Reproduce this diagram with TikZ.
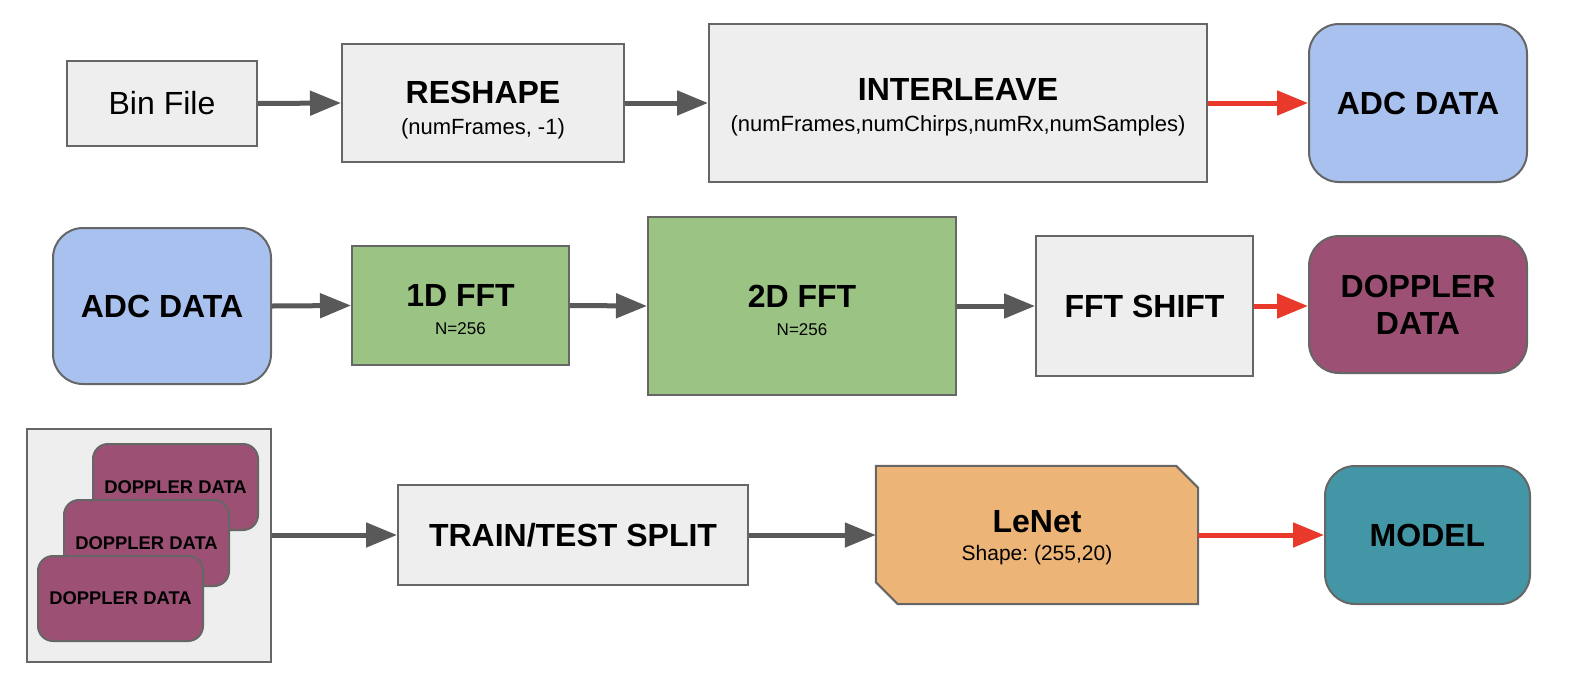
\documentclass[tikz,border=0pt]{standalone}
\usepackage{fontspec}
\setmainfont{Liberation Sans}
\usetikzlibrary{arrows.meta,backgrounds}
\definecolor{boxgray}{HTML}{EEEEEE}
\definecolor{edgegray}{HTML}{666666}
\definecolor{arrowgray}{HTML}{595959}
\definecolor{arrowred}{HTML}{E8392A}
\definecolor{adcblue}{HTML}{A9C1EE}
\definecolor{fftgreen}{HTML}{9BC384}
\definecolor{dopplerpurple}{HTML}{9C5174}
\definecolor{lenetorange}{HTML}{ECB476}
\definecolor{modelteal}{HTML}{4396A5}
\frenchspacing
\begin{document}
\begin{tikzpicture}[x=1pt,y=-1pt,
  box/.style={draw=edgegray, line width=2pt, fill=boxgray, inner sep=0pt, align=center},
  rbox/.style={box, rounded corners=30pt},
  card/.style={box, fill=dopplerpurple, rounded corners=15pt, minimum width=165pt, minimum height=86pt, font=\fontsize{18.4}{22}\selectfont\bfseries},
  big/.style={font=\fontsize{32}{37}\selectfont\bfseries},
  two/.style={font=\fontsize{32}{35}\selectfont\bfseries},
  flow/.style={draw=arrowgray, line width=5pt, -{Triangle[length=31pt,width=24pt]}},
  redflow/.style={draw=arrowred, line width=5pt, -{Triangle[length=31pt,width=24pt]}}
]
\useasboundingbox (0,0) rectangle (1570,694);
% row 1
\node[box, minimum width=190pt, minimum height=85pt, font=\fontsize{32}{37}\selectfont] (bin) at (162,103.5) {Bin File};
\node[box, two, minimum width=282pt, minimum height=118pt] (reshape) at (483,103)
  {\rule{0pt}{37pt}RESHAPE\\[-4pt]{\mdseries\fontsize{22}{26}\selectfont (numFrames, -1)}};
\node[box, two, minimum width=498pt, minimum height=158pt] (inter) at (958,103)
  {\rule{0pt}{31pt}INTERLEAVE\\[-4pt]{\mdseries\fontsize{22}{26}\selectfont (numFrames,numChirps,numRx,numSamples)}};
\node[rbox, big, fill=adcblue, minimum width=218pt, minimum height=158pt] (adcA) at (1418,103) {ADC DATA};
% row 2
\node[rbox, big, fill=adcblue, minimum width=218pt, minimum height=156pt] (adcB) at (162,306) {ADC DATA};
\node[box, two, fill=fftgreen, minimum width=217pt, minimum height=119pt] (fftA) at (460.5,305.5)
  {\rule{0pt}{31pt}1D FFT\\[-7pt]{\mdseries\fontsize{17}{20}\selectfont N=256}};
\node[box, two, fill=fftgreen, minimum width=308pt, minimum height=178pt] (fftB) at (802,306)
  {\rule{0pt}{31pt}2D FFT\\[-7pt]{\mdseries\fontsize{17}{20}\selectfont N=256}};
\node[box, big, minimum width=217pt, minimum height=140pt] (shift) at (1144.5,306) {FFT SHIFT};
\node[rbox, big, fill=dopplerpurple, minimum width=218pt, minimum height=137pt] (dop) at (1418,304.5) {DOPPLER\\DATA};
% row 3
\node[box, minimum width=244pt, minimum height=233pt] (stack) at (149,545.5) {};
\node[card] (cardA) at (175.5,487) {DOPPLER DATA};
\node[card] (cardB) at (146.5,543) {DOPPLER DATA};
\node[card, minimum height=85pt] (cardC) at (120.5,598.5) {DOPPLER DATA};
\node[box, big, minimum width=350pt, minimum height=100pt] (split) at (573,535) {TRAIN/TEST SPLIT};
\node[two, inner sep=0pt, align=center, minimum width=322pt, minimum height=138pt] (lenet) at (1037,535)
  {\rule{0pt}{28pt}LeNet\\[-7pt]{\mdseries\fontsize{21}{25}\selectfont Shape: (255,20)}};
\begin{scope}[on background layer]
\draw[draw=edgegray, line width=2pt, fill=lenetorange]
  (lenet.north west) -- ([xshift=-22pt]lenet.north east) -- ([yshift=-22pt]lenet.north east)
  -- (lenet.south east) -- ([xshift=22pt]lenet.south west) -- ([yshift=22pt]lenet.south west) -- cycle;
\end{scope}
\node[rbox, big, fill=modelteal, minimum width=205pt, minimum height=138pt] (model) at (1427.5,535) {MODEL};
% arrows
\draw[flow] (bin.east) -- (reshape.west);
\draw[flow] (reshape.east) -- (inter.west);
\draw[redflow] (inter.east) -- (adcA.west);
\draw[flow] (adcB.east) -- (fftA.west);
\draw[flow] (fftA.east) -- (fftB.west);
\draw[flow] (fftB.east) -- (shift.west);
\draw[redflow] (shift.east) -- (shift.east -| dop.west);
\draw[flow] (split.west -| stack.east) -- (split.west);
\draw[flow] (split.east) -- (lenet.west);
\draw[redflow] (lenet.east) -- (model.west);
\end{tikzpicture}
\end{document}
